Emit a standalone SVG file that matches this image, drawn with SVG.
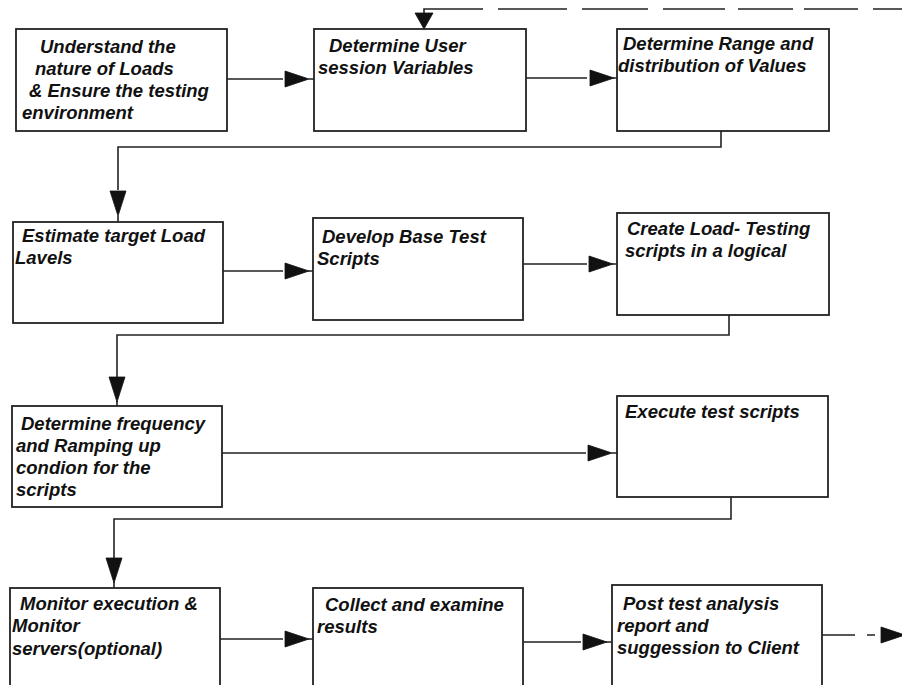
<svg xmlns="http://www.w3.org/2000/svg" width="902" height="685" viewBox="0 0 902 685">
<style>
.box{fill:#fff;stroke:#222;stroke-width:1.8}
.ln{fill:none;stroke:#222;stroke-width:1.6}
.ah{fill:#111;stroke:#111;stroke-width:0.8}
text{font-family:"Liberation Sans",Arial,sans-serif;font-weight:bold;font-style:italic;font-size:18.5px;fill:#111}
</style>
<defs>
<polygon id="ahR" points="0,-8 24,0 0,8"/>
<polygon id="ahD" points="-8,0 0,25 8,0"/>
</defs>
<rect width="902" height="685" fill="#fff"/>
<g id="connectors">
<path class="ln" d="M227,79 H283 M309,79 H314"/>
<use href="#ahR" class="ah" x="285" y="79"/>
<path class="ln" d="M526,78 H587 M613,78 H617"/>
<use href="#ahR" class="ah" x="590" y="78"/>
<path class="ln" d="M424,14 V9 H483 M498,9 H567 M582,9 H648 M663,9 H725 M738,9 H793 M804,9 H858 M873,9 H902"/>
<polygon class="ah" points="415,13 433,13 424,29"/>
<path class="ln" d="M721,131 V147 H118 V190 M118,216 V222"/>
<use href="#ahD" class="ah" x="118" y="191"/>
<path class="ln" d="M223,271 H283 M308,271 H313"/>
<use href="#ahR" class="ah" x="285" y="271"/>
<path class="ln" d="M523,264 H587 M612,264 H617"/>
<use href="#ahR" class="ah" x="589" y="264"/>
<path class="ln" d="M729,315 V335 H117 V377 M117,401 V406"/>
<use href="#ahD" class="ah" x="117" y="377"/>
<path class="ln" d="M222,453 H586 M612,453 H617"/>
<use href="#ahR" class="ah" x="588" y="453"/>
<path class="ln" d="M731,497 V519 H114 V558 M114,582 V588"/>
<use href="#ahD" class="ah" x="114" y="558"/>
<path class="ln" d="M220,639 H283 M308,639 H313"/>
<use href="#ahR" class="ah" x="285" y="639"/>
<path class="ln" d="M523,642 H581 M606,642 H612"/>
<use href="#ahR" class="ah" x="583" y="642"/>
<path class="ln" d="M822,635 H855 M867,635 H875"/>
<use href="#ahR" class="ah" x="881" y="635"/>
</g>
<g id="n1"><rect class="box" x="16" y="29" width="211" height="102"/>
<text x="40" y="53">Understand the</text><text x="35" y="75">nature of Loads</text><text x="29" y="97">&amp; Ensure the testing</text><text x="22" y="119">environment</text></g>
<g id="n2"><rect class="box" x="314" y="29" width="212" height="102"/>
<text x="329" y="52">Determine User</text><text x="318" y="74">session Variables</text></g>
<g id="n3"><rect class="box" x="617" y="29" width="212" height="102"/>
<text x="623" y="50">Determine Range and</text><text x="618" y="72">distribution of Values</text></g>
<g id="n4"><rect class="box" x="13" y="222" width="210" height="101"/>
<text x="22" y="242">Estimate target Load</text><text x="15" y="264">Lavels</text></g>
<g id="n5"><rect class="box" x="313" y="218" width="210" height="102"/>
<text x="322" y="243">Develop Base Test</text><text x="317" y="265">Scripts</text></g>
<g id="n6"><rect class="box" x="617" y="213" width="212" height="102"/>
<text x="627" y="235">Create Load- Testing</text><text x="625" y="257">scripts in a logical</text></g>
<g id="n7"><rect class="box" x="12" y="406" width="210" height="101"/>
<text x="21" y="430">Determine frequency</text><text x="16" y="452">and Ramping up</text><text x="16" y="474">condion for the</text><text x="16" y="496">scripts</text></g>
<g id="n8"><rect class="box" x="617" y="396" width="211" height="101"/>
<text x="625" y="418">Execute test scripts</text></g>
<g id="n9"><rect class="box" x="10" y="588" width="210" height="102"/>
<text x="20" y="610">Monitor execution &amp;</text><text x="12" y="632">Monitor</text><text x="12" y="655">servers(optional)</text></g>
<g id="n10"><rect class="box" x="313" y="588" width="210" height="102"/>
<text x="325" y="611">Collect and examine</text><text x="317" y="633">results</text></g>
<g id="n11"><rect class="box" x="612" y="585" width="210" height="105"/>
<text x="623" y="610">Post test analysis</text><text x="617" y="632">report and</text><text x="617" y="654">suggession to Client</text></g>
</svg>
